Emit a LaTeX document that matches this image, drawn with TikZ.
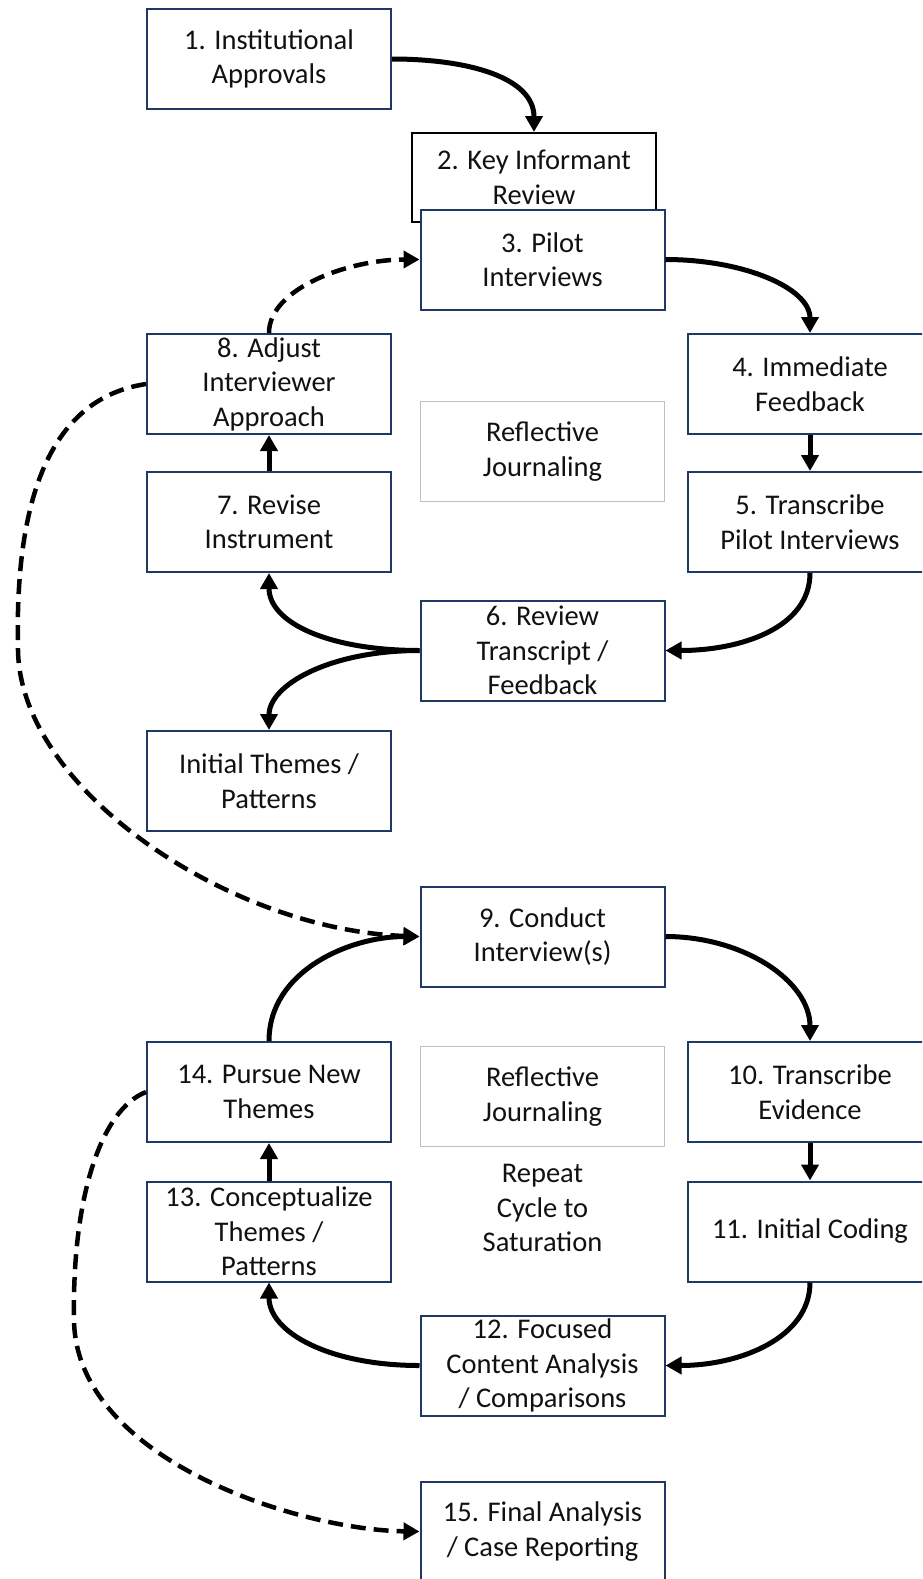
\documentclass[tikz,border=0pt]{standalone}
\usepackage{fontspec}
\setmainfont{Carlito}
\usetikzlibrary{arrows.meta}
\definecolor{navy}{HTML}{1F3864}
\definecolor{softgray}{HTML}{BFBFBF}
\definecolor{ink}{HTML}{111111}
\begin{document}
\begin{tikzpicture}[x=1pt,y=-1pt,
  stagebox/.style={draw=navy, line width=2pt, fill=white, minimum width=244pt,
    minimum height=100pt, inner sep=0pt, align=center, text=ink,
    font=\fontsize{28.5}{34.5}\selectfont},
  notebox/.style={stagebox, draw=softgray, line width=1.2pt},
  plaintext/.style={align=center, text=ink, inner sep=0pt,
    font=\fontsize{28.5}{34.5}\selectfont},
  flow/.style={line width=5pt, -{Triangle[width=17pt,length=16pt]}},
  loopback/.style={flow, line width=4.5pt, dash pattern=on 15pt off 8pt}]

\useasboundingbox (0,0) rectangle (922,1579);
\clip (0,0) rectangle (922,1579);

% pilot phase
\node[stagebox] (s1) at (269,59) {1. Institutional\\Approvals};
\node[stagebox, draw=black, minimum height=89pt] (s2) at (534,177.5) {2. Key Informant\\Review};
\node[stagebox] (s3) at (542.5,259.5) {3. Pilot\\Interviews};
\node[stagebox] (s4) at (810,384) {4. Immediate\\Feedback};
\node[stagebox] (s5) at (810,522) {5. Transcribe\\Pilot Interviews};
\node[stagebox] (s6) at (542.5,650.5) {6. Review\\Transcript /\\Feedback};
\node[stagebox] (s7) at (269,522) {7. Revise\\Instrument};
\node[stagebox] (s8) at (269,384) {8. Adjust\\Interviewer\\Approach};
\node[notebox] (rj1) at (542.5,451.5) {Reflective\\Journaling};
\node[stagebox] (themes) at (269,781) {Initial Themes /\\Patterns};

% interview phase
\node[stagebox] (s9) at (542.5,936.5) {9. Conduct\\Interview(s)};
\node[stagebox] (s10) at (810,1092) {10. Transcribe\\Evidence};
\node[stagebox] (s11) at (810,1231.5) {11. Initial Coding};
\node[stagebox] (s12) at (542.5,1365.5) {12. Focused\\Content Analysis\\/ Comparisons};
\node[stagebox] (s13) at (269,1231.5) {13. Conceptualize\\Themes /\\Patterns};
\node[stagebox] (s14) at (269,1092) {14. Pursue New\\Themes};
\node[notebox] (rj2) at (542.5,1096.5) {Reflective\\Journaling};
\node[plaintext] (rep) at (542.5,1208) {Repeat\\Cycle to\\Saturation};
\node[stagebox] (s15) at (542.5,1531.5) {15. Final Analysis\\/ Case Reporting};

% solid connectors, pilot loop
\draw[flow] (s1.east) .. controls +(75,0) and +(0,-55) .. (s2.north);
\draw[flow] (s3.east) .. controls +(78,0) and +(0,-45) .. (s4.north);
\draw[flow] (s4.south) -- (s5.north);
\draw[flow] (s5.south) .. controls +(0,55) and +(75,0) .. (s6.east);
\draw[flow] (s6.west) .. controls +(-90,0) and +(0,50) .. (s7.south);
\draw[flow] (s6.west) .. controls +(-90,0) and +(0,-45) .. (themes.north);
\draw[flow] (s7.north) -- (s8.south);

% solid connectors, interview loop
\draw[flow] (s9.east) .. controls +(78,0) and +(0,-60) .. (s10.north);
\draw[flow] (s10.south) -- (s11.north);
\draw[flow] (s11.south) .. controls +(0,55) and +(75,0) .. (s12.east);
\draw[flow] (s12.west) .. controls +(-90,0) and +(0,50) .. (s13.south);
\draw[flow] (s13.north) -- (s14.south);
\draw[flow] (s14.north) .. controls +(0,-70) and +(-70,0) .. (s9.west);

% dashed connectors
\coordinate (bendA) at (18,650);
\coordinate (bendB) at (74,1320);
\draw[loopback] (s8.north) .. controls +(0,-45) and +(-70,0) .. (s3.west);
\draw[loopback] (s8.west) .. controls (40,400) and (15,520) .. (bendA)
  .. controls (20,790) and (230,930) .. (s9.west);
\draw[loopback] (s14.west) .. controls (100,1110) and (72,1200) .. (bendB)
  .. controls (76,1460) and (300,1530) .. (s15.west);
\end{tikzpicture}
\end{document}
